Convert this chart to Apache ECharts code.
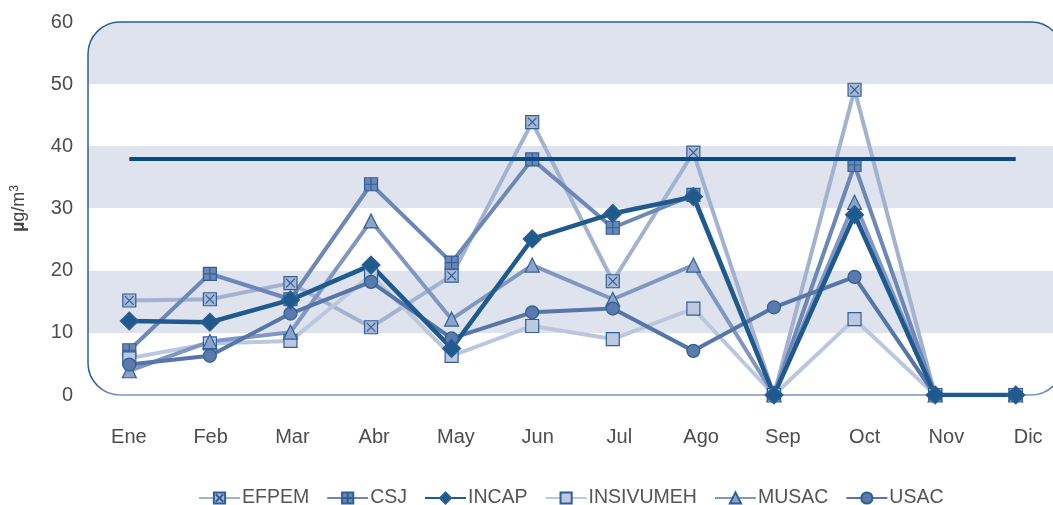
<!DOCTYPE html>
<html>
<head>
<meta charset="utf-8">
<script src="https://cdn.jsdelivr.net/npm/echarts@6/dist/echarts.min.js"></script>
<style>
  html, body { margin: 0; padding: 0; background: #fff; }
  #chart { width: 1053px; height: 505px; }
</style>
</head>
<body>
<div id="chart"></div>
<script>
// meses
var months = ['Ene', 'Feb', 'Mar', 'Abr', 'May', 'Jun', 'Jul', 'Ago', 'Sep', 'Oct', 'Nov', 'Dic'];
var yTicks = [0, 10, 20, 30, 40, 50, 60];

// concentraciones por estacion (ug/m3)
var efpem     = [15.2, 15.4, 18.0, 10.9, 19.2, 43.9, 18.3, 39.0, 0, 49.1, 0, 0];
var csj       = [7.2, 19.5, 15.4, 33.9, 21.3, 37.9, 26.9, 32.2, 0, 37.0, 0, 0];
var incap     = [11.9, 11.7, 15.3, 20.9, 7.5, 25.1, 29.2, 31.9, 0, 29.0, 0, 0];
var insivumeh = [5.9, 8.3, 8.7, 19.3, 6.3, 11.1, 9.0, 13.9, 0, 12.2, 0, 0];
var musac     = [3.9, 8.6, 10.1, 28.0, 12.2, 20.9, 15.4, 20.9, 0, 31.0, 0, 0];
var usac      = [4.9, 6.3, 13.1, 18.2, 9.1, 13.3, 13.9, 7.1, 14.1, 19.0, 0, 0];

// valor guia
var limite = 38;

var FONT = 'Liberation Sans, Arial, sans-serif';
var BAND = '#dfe3ed';
var EDGE = '#2f5f96';
var TXT = '#4d4d4d';

var SYM_XBOX = 'path://M0,0H12V12H0Z M2,2L10,10 M10,2L2,10';
var SYM_GRID = 'path://M0,0H12V12H0Z M6,0V12 M0,6H12';

// franjas alternas del fondo (de arriba hacia abajo)
var stops = [];
for (var i = 0; i < 6; i++) {
    var c = (i % 2 == 0) ? BAND : '#ffffff';
    stops.push({offset: i / 6, color: c});
    stops.push({offset: (i + 1) / 6, color: c});
}

function serie(name, data, color, fill, symbol, size, width) {
    return {
        name: name,
        type: 'line',
        data: data,
        symbol: symbol,
        symbolSize: size,
        lineStyle: {color: color, width: width || 4},
        itemStyle: {color: fill, borderColor: EDGE, borderWidth: 1.2},
        emphasis: {disabled: true}
    };
}

var chart = echarts.init(document.getElementById('chart'));
var option = {
    animation: false,
    textStyle: {fontFamily: FONT},
    grid: [
        {left: 89, top: 22, width: 967, height: 373, outerBoundsMode: 'none'},
        // solo para las etiquetas de los meses
        {left: 88, top: 22, width: 981, height: 373, outerBoundsMode: 'none'}
    ],
    graphic: [{
        type: 'rect',
        z: -10,
        silent: true,
        shape: {x: 88, y: 22, width: 975, height: 373, r: 32},
        style: {
            fill: {type: 'linear', x: 0, y: 0, x2: 0, y2: 1, colorStops: stops},
            stroke: {type: 'linear', x: 0, y: 0, x2: 0, y2: 1, colorStops: [
                {offset: 0, color: '#2d5e95'},
                {offset: 0.97, color: '#2d5e95'},
                {offset: 1, color: '#7f9cba'}
            ]},
            lineWidth: 1.5
        }
    }],
    legend: {
        top: 483,
        left: 193,
        itemWidth: 41,
        itemHeight: 14,
        itemGap: 17,
        data: ['EFPEM', 'CSJ', 'INCAP', 'INSIVUMEH', 'MUSAC', 'USAC'],
        textStyle: {fontFamily: FONT, fontSize: 19.5, color: '#555555', padding: [0, 0, 0, -3]}
    },
    xAxis: [{
        type: 'category',
        data: months,
        axisLine: {show: false},
        axisTick: {show: false},
        axisLabel: {show: false}
    }, {
        type: 'category',
        gridIndex: 1,
        data: months,
        axisLine: {show: false},
        axisTick: {show: false},
        axisLabel: {margin: 32, fontSize: 20, color: TXT, fontFamily: FONT}
    }],
    yAxis: [{
        type: 'value',
        min: yTicks[0],
        max: yTicks[yTicks.length - 1],
        interval: 10,
        name: '{mu|µ}g/m{sup|3}',
        nameLocation: 'middle',
        nameRotate: 90,
        nameGap: 60,
        nameTextStyle: {
            fontSize: 18,
            color: '#444444',
            rich: {
                mu: {fontSize: 18, fontWeight: 'bold', color: '#444444'},
                sup: {fontSize: 12, color: '#444444', padding: [0, 0, 8, 0]}
            }
        },
        axisLine: {show: false},
        axisTick: {show: false},
        splitLine: {show: false},
        axisLabel: {margin: 16, fontSize: 20, color: TXT, fontFamily: FONT}
    }, {
        type: 'value',
        gridIndex: 1,
        show: false,
        min: 0,
        max: 60
    }],
    series: [
        serie('EFPEM', efpem, '#a3b2d0', '#a9b8d6', SYM_XBOX, 13),
        serie('CSJ', csj, '#6d88b7', '#6c87b7', SYM_GRID, 13),
        serie('INSIVUMEH', insivumeh, '#bbc7df', '#bdc9e1', 'rect', 13),
        serie('MUSAC', musac, '#7f97c2', '#8ca2c9', 'triangle', 14),
        serie('USAC', usac, '#5675a8', '#5a79ac', 'circle', 13),
        serie('INCAP', incap, '#1f5a8f', '#1f5a8f', 'diamond', 18, 4.5)
    ]
};

// linea del valor guia
option.series[0].markLine = {
    silent: true,
    symbol: 'none',
    label: {show: false},
    lineStyle: {color: '#0c4886', width: 4, type: 'solid'},
    data: [[{coord: [months[0], limite]}, {coord: [months[months.length - 1], limite]}]]
};

chart.setOption(option);
</script>
</body>
</html>
